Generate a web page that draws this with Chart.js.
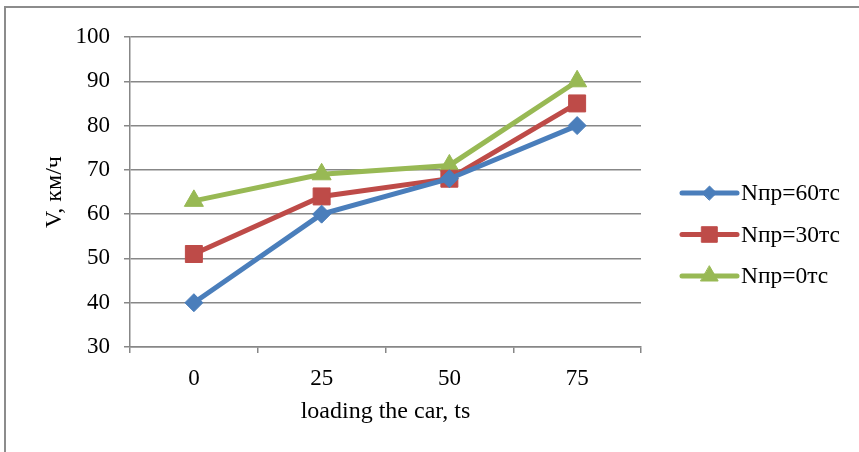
<!DOCTYPE html>
<html lang="ru">
<head>
    <meta charset="UTF-8">
    <title>V, км/ч</title>
    <script src="https://cdn.jsdelivr.net/npm/chart.js"></script>
    <style>
        body {
            margin: 0;
            padding: 0;
            background: #ffffff;
        }
        #wrap {
            width: 859px;
            height: 452px;
        }
    </style>
</head>
<body>
    <div id="wrap">
        <canvas id="speedChart" width="859" height="452"></canvas>
    </div>

    <script>
        // data
        const loads = ['0', '25', '50', '75'];
        const seriesNames = ['Nпр=60тс', 'Nпр=30тс', 'Nпр=0тс'];
        const speed60 = [40, 60, 68, 80];
        const speed30 = [51, 64, 68, 85];
        const speed0 = [63, 69, 71, 90];

        const FONT = "'Liberation Serif', 'Times New Roman', serif";
        const gridGray = '#878787';

        // outer frame (only top and left edge are visible in the picture)
        const framePlugin = {
            id: 'frame',
            beforeDraw(chart) {
                const ctx = chart.ctx;
                ctx.save();
                ctx.fillStyle = '#ffffff';
                ctx.fillRect(0, 0, chart.width, chart.height);
                ctx.strokeStyle = '#8c8c8c';
                ctx.lineWidth = 2;
                ctx.beginPath();
                ctx.moveTo(5, chart.height + 2);
                ctx.lineTo(5, 7);
                ctx.lineTo(chart.width + 2, 7);
                ctx.stroke();
                ctx.restore();
            }
        };

        // excel-like legend: line with marker, then text
        const legendPlugin = {
            id: 'sideLegend',
            afterDraw(chart) {
                const ctx = chart.ctx;
                const x0 = 682, x1 = 737;
                const ys = [193, 234.5, 276];
                ctx.save();
                chart.data.datasets.forEach((ds, i) => {
                    const y = ys[i];
                    ctx.strokeStyle = ds.borderColor;
                    ctx.lineWidth = ds.borderWidth;
                    ctx.lineCap = 'round';
                    ctx.beginPath();
                    ctx.moveTo(x0, y);
                    ctx.lineTo(x1, y);
                    ctx.stroke();
                    ctx.fillStyle = ds.pointBackgroundColor;
                    ctx.strokeStyle = ds.pointBackgroundColor;
                    ctx.lineWidth = 1;
                    Chart.helpers.drawPoint(ctx, {
                        pointStyle: ds.pointStyle,
                        rotation: 0,
                        radius: ds.legendRadius,
                        borderWidth: 1
                    }, (x0 + x1) / 2, y);
                    ctx.fillStyle = '#000000';
                    ctx.font = '23.5px ' + FONT;
                    ctx.textBaseline = 'middle';
                    ctx.textAlign = 'left';
                    ctx.fillText(ds.label, 741, y + 1);
                });
                ctx.restore();
            }
        };

        const ctx = document.getElementById('speedChart').getContext('2d');
        new Chart(ctx, {
            type: 'line',
            data: {
                labels: loads,
                datasets: [
                    {
                        label: seriesNames[0],
                        data: speed60,
                        borderColor: '#4a7ebb',
                        borderWidth: 5,
                        pointStyle: 'rectRot',
                        pointRadius: 9,
                        legendRadius: 7,
                        pointBackgroundColor: '#4a7ebb',
                        pointBorderColor: '#4a7ebb',
                        pointBorderWidth: 1
                    },
                    {
                        label: seriesNames[1],
                        data: speed30,
                        borderColor: '#be4b48',
                        borderWidth: 5,
                        pointStyle: 'rect',
                        pointRadius: 12,
                        legendRadius: 11,
                        pointBackgroundColor: '#be4b48',
                        pointBorderColor: '#be4b48',
                        pointBorderWidth: 1
                    },
                    {
                        label: seriesNames[2],
                        data: speed0,
                        borderColor: '#98b954',
                        borderWidth: 5,
                        pointStyle: 'triangle',
                        pointRadius: 11,
                        legendRadius: 10,
                        pointBackgroundColor: '#98b954',
                        pointBorderColor: '#98b954',
                        pointBorderWidth: 1
                    }
                ]
            },
            options: {
                responsive: false,
                animation: false,
                layout: {
                    padding: { left: 0, right: 218, top: 37, bottom: 0 }
                },
                plugins: {
                    legend: { display: false },
                    tooltip: { enabled: false }
                },
                scales: {
                    x: {
                        offset: true,
                        afterFit(scale) { scale.height = 105; },
                        grid: {
                            offset: true,
                            drawOnChartArea: false,
                            drawTicks: true,
                            tickLength: 6,
                            color: gridGray,
                            lineWidth: 1.5
                        },
                        border: { color: gridGray, width: 1.5 },
                        ticks: {
                            color: '#000000',
                            padding: 12,
                            font: { family: FONT, size: 23 }
                        },
                        title: {
                            display: true,
                            text: 'loading the car, ts',
                            color: '#000000',
                            padding: { top: 0, bottom: 25.6 },
                            font: { family: FONT, size: 24 }
                        }
                    },
                    y: {
                        min: 30,
                        max: 100,
                        afterFit(scale) { scale.width = 130; },
                        grid: {
                            drawTicks: true,
                            tickLength: 6,
                            color: gridGray,
                            lineWidth: 1.5
                        },
                        border: { color: gridGray, width: 1.5 },
                        ticks: {
                            stepSize: 10,
                            color: '#000000',
                            padding: 14,
                            font: { family: FONT, size: 23 }
                        },
                        title: {
                            display: true,
                            text: 'V, км/ч',
                            color: '#000000',
                            padding: { top: 40.6, bottom: 0 },
                            font: { family: FONT, size: 24 }
                        }
                    }
                }
            },
            plugins: [framePlugin, legendPlugin]
        });
    </script>
</body>
</html>
